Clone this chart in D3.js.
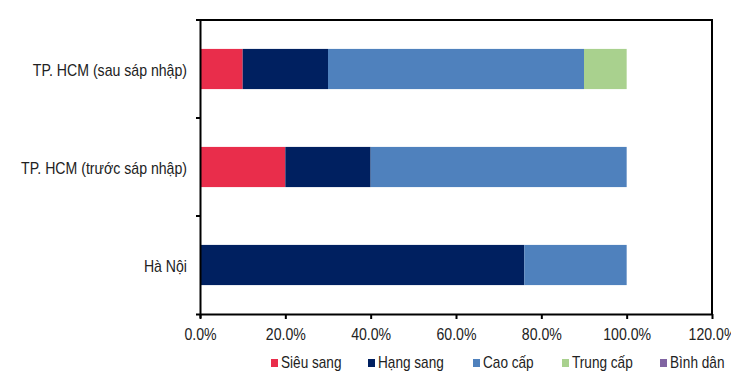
<!DOCTYPE html>
<html><head><meta charset="utf-8">
<script src="https://cdn.jsdelivr.net/npm/d3@7"></script>
<style>
body{margin:0;background:#fff;}
svg{display:block;font-family:"Liberation Sans",Arial,sans-serif;}
</style></head>
<body><svg id="c" width="731" height="376"></svg>
<script>
const categories = ["TP. HCM (sau sáp nhập)", "TP. HCM (trước sáp nhập)", "Hà Nội"];
const seriesNames = ["Siêu sang", "Hạng sang", "Cao cấp", "Trung cấp", "Bình dân"];
const sieuSang = [10, 20, 0];
const hangSang = [20, 20, 76];
const caoCap = [60, 60, 24];
const trungCap = [10, 0, 0];
const binhDan = [0, 0, 0];
const tickValues = [0, 20, 40, 60, 80, 100, 120];
const colors = ["#E92D4B", "#002060", "#4F81BD", "#A9D18E", "#8064A2"];

const svg = d3.select("#c");
const m = {l:200, r:712, t:20, b:314};
const FS = 17, SQ = 0.83;
const x = d3.scaleLinear().domain([0,120]).range([m.l, m.r]);
const y = d3.scaleBand().domain(categories).range([m.t, m.b]).paddingInner(0.59).paddingOuter(0.295);

const rows = categories.map((c,i)=>({cat:c, "Siêu sang":sieuSang[i], "Hạng sang":hangSang[i], "Cao cấp":caoCap[i], "Trung cấp":trungCap[i], "Bình dân":binhDan[i]}));
const stack = d3.stack().keys(seriesNames)(rows);

svg.append("g").selectAll("g").data(stack).join("g")
  .attr("fill",(d,i)=>colors[i])
  .selectAll("rect").data(d=>d.filter(p=>p[1]>p[0])).join("rect")
  .attr("x",d=>x(d[0])).attr("width",d=>x(d[1])-x(d[0]))
  .attr("y",d=>y(d.data.cat)).attr("height",y.bandwidth());

// frame
svg.append("line").attr("x1",m.l-4).attr("x2",m.r+1).attr("y1",m.t).attr("y2",m.t).attr("stroke","#000").attr("stroke-width",2);
svg.append("line").attr("x1",m.r).attr("x2",m.r).attr("y1",m.t).attr("y2",m.b).attr("stroke","#000").attr("stroke-width",2);

// x axis
const xa = svg.append("g").attr("transform",`translate(0,${m.b})`)
  .call(d3.axisBottom(x).tickValues(tickValues).tickSize(5).tickFormat(d=>d.toFixed(1)+"%"));
xa.select(".domain").attr("stroke","#000").attr("stroke-width",2).attr("d",`M${m.l-4},0.5H${m.r+1}`);
xa.selectAll(".tick line").attr("stroke","#000").attr("stroke-width",2);
xa.selectAll(".tick text").attr("font-size",FS).attr("fill","#222").attr("y",26).attr("dy",0).attr("font-family","Liberation Sans, Arial, sans-serif");

// y axis
const ya = svg.append("g").attr("transform",`translate(${m.l},0)`)
  .call(d3.axisLeft(y).tickSize(0).tickPadding(13));
ya.select(".domain").attr("stroke","#000").attr("stroke-width",2).attr("d",`M0.5,${m.t}V${m.b+4}`);
ya.selectAll(".tick text").attr("font-size",FS).attr("fill","#222").attr("dy","0.42em").attr("font-family","Liberation Sans, Arial, sans-serif");
// category separators
const step = y.step();
const seps = categories.slice(1).map((c,i)=>y(c) - y.paddingInner()*step/2);
svg.append("g").selectAll("line").data(seps).join("line")
  .attr("x1",m.l-4).attr("x2",m.l).attr("y1",d=>d).attr("y2",d=>d).attr("stroke","#000").attr("stroke-width",2);

// legend
const legX = [271, 368, 473, 562, 660];
const leg = svg.append("g").selectAll("g").data(seriesNames).join("g")
  .attr("transform",(d,i)=>`translate(${legX[i]},368)`);
leg.append("rect").attr("x",0).attr("y",-9).attr("width",7).attr("height",8).attr("fill",(d,i)=>colors[i]);
leg.append("text").attr("class","lg").attr("x",10).attr("y",0).attr("font-size",FS).attr("fill","#222").text(d=>d);

// narrow (condensed) text like the reference
svg.selectAll("text").each(function(){
  const w = this.getComputedTextLength();
  const s = this.getAttribute("class")==="lg" ? 0.8 : SQ;
  this.setAttribute("textLength", (w*s).toFixed(1));
  this.setAttribute("lengthAdjust","spacingAndGlyphs");
});
</script></body></html>
